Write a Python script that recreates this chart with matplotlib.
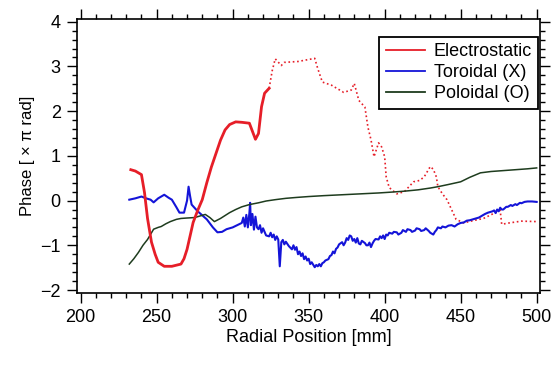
import matplotlib
matplotlib.use("Agg")
import matplotlib.pyplot as plt
from matplotlib.ticker import MultipleLocator

plt.rcParams['font.family'] = ['Liberation Sans', 'DejaVu Sans']

# Electrostatic phase, solid part (measured)
es_x = [233, 236, 240, 242, 244, 246.6, 249, 251, 255, 260, 266, 268, 270, 274,
        277, 280, 283, 286, 289, 292, 295, 298, 302, 306, 311, 313, 315, 317,
        319, 321, 324]
es_y = [0.69, 0.66, 0.58, 0.18, -0.4, -0.93, -1.2, -1.38, -1.47, -1.47, -1.42,
        -1.3, -1.09, -0.49, -0.22, 0.02, 0.4, 0.75, 1.05, 1.35, 1.58, 1.7, 1.76,
        1.75, 1.73, 1.55, 1.37, 1.5, 2.1, 2.4, 2.51]

# Electrostatic phase, dotted part
esd_x = [324, 326, 328, 332, 334, 343, 354, 356, 359, 365, 373, 378, 380, 383,
         387, 389, 391, 393, 396, 398, 400, 401, 403, 408, 413, 419, 423, 426,
         430, 432, 434, 435, 438, 441, 444, 447, 452, 458, 465, 471, 476, 477,
         482, 490, 500]
esd_y = [2.51, 2.9, 3.17, 3.02, 3.09, 3.11, 3.18, 2.95, 2.65, 2.58, 2.42, 2.47,
         2.62, 2.24, 2.09, 1.64, 1.36, 0.98, 1.29, 1.2, 0.98, 0.53, 0.29, 0.15,
         0.2, 0.42, 0.45, 0.53, 0.76, 0.7, 0.53, 0.31, 0.15, 0.02, -0.2, -0.42,
         -0.5, -0.45, -0.4, -0.3, -0.22, -0.53, -0.5, -0.46, -0.47]

# Toroidal (X)
tor_x = [232, 236, 240, 243, 246, 248, 251, 255, 258, 260, 263, 265, 268, 270,
         271, 272, 273, 277, 280, 283, 287, 290, 293, 296, 300, 303, 306, 307,
         308, 309, 310, 311, 311.5, 312, 313, 314, 315, 316, 317, 318, 319, 320,
         321, 322, 324, 325, 326, 327, 328, 329, 330, 331, 332, 333, 334, 335,
         336, 337, 339, 340, 341, 342, 343, 344, 345, 346, 347, 348, 349, 350,
         351, 352, 354, 355, 356, 357, 358, 359, 360, 361, 363, 364, 365, 366,
         367, 368, 369, 370, 372, 373, 374, 375, 376, 377, 378, 379, 380, 381,
         382, 383, 384, 385, 387, 388, 389, 390, 391, 392, 393, 394, 396, 397,
         398, 399, 400, 401, 402, 403, 405, 406, 408, 409, 411, 412, 414, 415,
         417, 418, 420, 421, 423, 424, 426, 427, 429, 430, 432, 433, 434, 435,
         437, 438, 440, 442, 444, 446, 448, 450, 452, 454, 456, 458, 460, 462,
         463, 465, 466, 468, 469, 471, 472, 473, 474, 475, 476, 477, 478, 480,
         481, 483, 484, 486, 487, 489, 490, 492, 494, 496, 497, 500]
tor_y = [0.02, 0.05, 0.09, 0.05, 0.02, -0.04, 0.05, 0.13, 0.06, 0.02, -0.15,
         -0.27, -0.27, 0.0, 0.31, 0.1, -0.09, -0.24, -0.33, -0.42, -0.6, -0.71,
         -0.7, -0.64, -0.6, -0.55, -0.5, -0.38, -0.58, -0.32, -0.6, -0.28,
         -0.05, -0.55, -0.3, -0.65, -0.36, -0.6, -0.64, -0.55, -0.72, -0.62,
         -0.7, -0.78, -0.8, -0.72, -0.82, -0.76, -0.88, -0.8, -0.87, -1.47,
         -0.93, -0.88, -0.98, -0.92, -0.97, -1.02, -1.09, -1.0, -1.1, -1.04,
         -1.2, -1.14, -1.24, -1.18, -1.31, -1.25, -1.34, -1.3, -1.42, -1.38,
         -1.49, -1.44, -1.47, -1.42, -1.47, -1.4, -1.38, -1.34, -1.31, -1.24,
         -1.22, -1.14, -1.18, -1.08, -1.05, -0.98, -0.93, -1.0, -0.94, -0.84,
         -0.88, -0.78, -0.8, -0.9, -0.86, -0.94, -0.84, -0.96, -0.98, -0.9,
         -0.95, -1.0, -1.0, -0.94, -1.04, -0.96, -0.9, -0.86, -0.87, -0.8,
         -0.84, -0.78, -0.86, -0.76, -0.78, -0.72, -0.74, -0.7, -0.71, -0.76,
         -0.72, -0.66, -0.7, -0.64, -0.66, -0.7, -0.67, -0.62, -0.64, -0.68,
         -0.66, -0.62, -0.68, -0.72, -0.76, -0.7, -0.66, -0.6, -0.62, -0.58,
         -0.6, -0.56, -0.55, -0.58, -0.53, -0.5, -0.49, -0.45, -0.44, -0.42,
         -0.4, -0.38, -0.36, -0.32, -0.3, -0.27, -0.26, -0.24, -0.22, -0.28,
         -0.2, -0.24, -0.16, -0.2, -0.2, -0.14, -0.14, -0.1, -0.12, -0.08,
         -0.1, -0.05, -0.06, -0.03, -0.02, -0.02, -0.02, -0.03]

# Poloidal (O)
pol_x = [232, 235, 238, 241, 244, 248, 251, 253, 256, 259, 263, 266, 270, 275,
         279, 282, 285, 288, 292, 298, 302, 306, 311, 317, 322, 328, 335, 342,
         350, 360, 372, 384, 396, 405, 413, 422, 430, 435, 442, 450, 456, 463,
         470, 478, 486, 494, 500]
pol_y = [-1.42, -1.3, -1.16, -1.0, -0.87, -0.64, -0.6, -0.58, -0.52, -0.47,
         -0.42, -0.4, -0.39, -0.38, -0.34, -0.31, -0.38, -0.47, -0.4, -0.27,
         -0.2, -0.14, -0.09, -0.05, -0.01, 0.02, 0.05, 0.07, 0.09, 0.11, 0.13,
         0.15, 0.17, 0.19, 0.21, 0.24, 0.28, 0.31, 0.36, 0.42, 0.52, 0.62, 0.65,
         0.67, 0.69, 0.71, 0.73]

RED = '#e61e28'
BLUE = '#1414d8'
GREEN = '#1e3c1e'

fig = plt.figure(figsize=(5.57, 3.69), dpi=100)
ax = fig.add_axes([0.1377, 0.2051, 0.8318, 0.7434])

ax.plot(es_x, es_y, color=RED, lw=2.0, label='Electrostatic', zorder=4)
ax.plot(esd_x, esd_y, color=RED, lw=1.2, ls=(0, (1, 1.6)), zorder=2)
ax.plot(tor_x, tor_y, color=BLUE, lw=1.5, label='Toroidal (X)', zorder=3)
ax.plot(pol_x, pol_y, color=GREEN, lw=1.1, label='Poloidal (O)', zorder=3)

ax.set_xlim(197.4, 502.2)
ax.set_ylim(-2.074, 4.06)
ax.xaxis.set_major_locator(MultipleLocator(50))
ax.xaxis.set_minor_locator(MultipleLocator(10))
ax.yaxis.set_major_locator(MultipleLocator(1))
ax.yaxis.set_minor_locator(MultipleLocator(0.2))
ax.tick_params(which='both', direction='out', top=True, right=True,
               labelsize=13, width=1.0, color='black')
ax.tick_params(which='major', length=7.5, pad=4)
ax.tick_params(which='minor', length=3.5)
for s in ax.spines.values():
    s.set_linewidth(1.2)

ax.set_xlabel('Radial Position [mm]', fontsize=13, labelpad=2)
ax.set_ylabel('Phase [ × π rad]', fontsize=12, labelpad=4)

leg = ax.legend(loc='upper right', bbox_to_anchor=(0.996, 0.934), borderaxespad=0,
                fontsize=13, handlelength=2.2, handletextpad=0.45,
                labelspacing=0.22, borderpad=0.35, fancybox=False, framealpha=1)
leg.get_frame().set_edgecolor('black')
leg.get_frame().set_linewidth(1.3)
for line in leg.get_lines():
    line.set_linewidth(1.3)

fig.savefig('out.png', dpi=100)
